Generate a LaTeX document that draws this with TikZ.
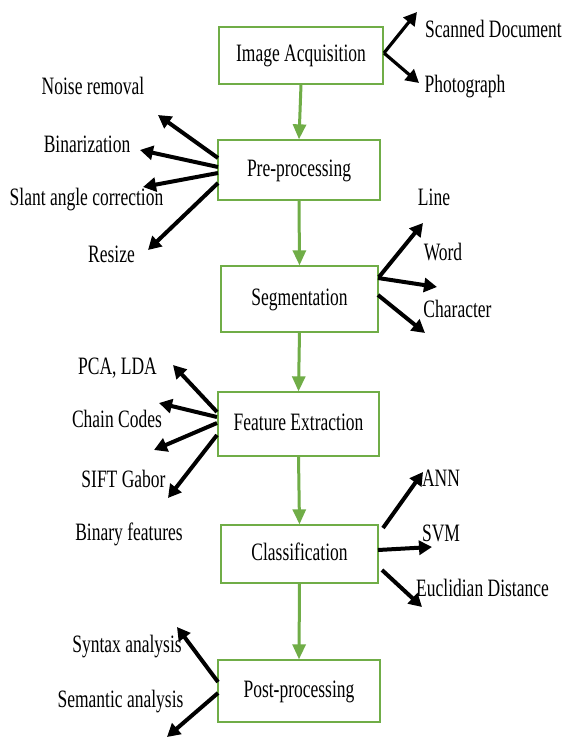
\documentclass[tikz,border=0pt]{standalone}
\usepackage{fontspec}
\setmainfont{Liberation Serif}[FakeStretch=0.7]
\usetikzlibrary{arrows.meta,calc}
\definecolor{boxgreen}{HTML}{70AD47}
\begin{document}
\begin{tikzpicture}[x=1pt,y=-1pt,
  box/.style={draw=boxgreen,line width=1.3pt,inner sep=0pt,
    font=\fontsize{25}{28}\selectfont,text height=17pt,text depth=5pt},
  lbl/.style={inner sep=0pt,anchor=base,font=\fontsize{25}{28}\selectfont},
  flow/.style={draw=boxgreen,line width=3pt,-{Triangle[length=15pt,width=13pt]}},
  outarrow/.style={draw=black,line width=4pt,-{Triangle[length=13pt,width=14pt]}}]
\useasboundingbox (0,0) rectangle (564,737);
\fill[white] (0,0) rectangle (564,737);

% boxes
\node[box,minimum width=164pt,minimum height=57pt] (acq) at (301,55.5) {Image Acquisition};
\node[box,minimum width=162pt,minimum height=60pt] (pre) at (299,170) {Pre-processing};
\node[box,minimum width=157pt,minimum height=66pt] (seg) at (299.5,299) {Segmentation};
\node[box,minimum width=161pt,minimum height=64pt] (feat) at (298.5,424) {Feature Extraction};
\node[box,minimum width=157pt,minimum height=58pt] (cls) at (299.5,554) {Classification};
\node[box,minimum width=162pt,minimum height=62pt] (post) at (299,691) {Post-processing};

% flow arrows
\draw[flow] (acq.south) -- (pre.north);
\draw[flow] (pre.south) -- (seg.north);
\draw[flow] (seg.south) -- (feat.north);
\draw[flow] (feat.south) -- (cls.north);
\draw[flow] (cls.south) -- (post.north);

% labels
\node[lbl] (l1) at (493.5,37) {Scanned Document};
\node[lbl] (l2) at (465,92) {Photograph};
\node[lbl] (l3) at (93,94) {Noise removal};
\node[lbl] (l4) at (87,152) {Binarization};
\node[lbl] (l5) at (86.5,205) {Slant angle correction};
\node[lbl] (l6) at (111.5,262) {Resize};
\node[lbl] (l7) at (434,205) {Line};
\node[lbl] (l8) at (443,260) {Word};
\node[lbl] (l9) at (457.5,317) {Character};
\node[lbl] (l10) at (117.5,374) {PCA, LDA};
\node[lbl] (l11) at (117,427) {Chain Codes};
\node[lbl] (l12) at (123.5,487) {SIFT Gabor};
\node[lbl] (l13) at (129,540) {Binary features};
\node[lbl] (l14) at (441,486) {ANN};
\node[lbl] (l15) at (441,541) {SVM};
\node[lbl] (l16) at (482.5,596) {Euclidian Distance};
\node[lbl] (l17) at (127,652) {Syntax analysis};
\node[lbl] (l18) at (120.5,707) {Semantic analysis};

% arrow ends
\coordinate (a0) at (384,53);
\coordinate (a1) at (417,12);
\coordinate (a2) at (419,83);
\coordinate (p0a) at (218,158); \coordinate (p1) at (158,115);
\coordinate (p0b) at (218,167); \coordinate (p2) at (140,150);
\coordinate (p0c) at (218,173); \coordinate (p3) at (143,187);
\coordinate (p0d) at (218,183); \coordinate (p4) at (148,250);
\coordinate (s0a) at (379,277); \coordinate (s1) at (423,223);
\coordinate (s0b) at (378,278); \coordinate (s2) at (437,287);
\coordinate (s0c) at (378,295); \coordinate (s3) at (425,333);
\coordinate (f0a) at (217,412); \coordinate (f1) at (173,365);
\coordinate (f0b) at (217,417); \coordinate (f2) at (159,403);
\coordinate (f0c) at (217,423); \coordinate (f3) at (154,450);
\coordinate (f0d) at (217,435); \coordinate (f4) at (168,498);
\coordinate (c0a) at (383,528); \coordinate (c1) at (423,472);
\coordinate (c0b) at (378,550); \coordinate (c2) at (432,547);
\coordinate (c0c) at (382,570); \coordinate (c3) at (422,607);
\coordinate (q0a) at (218,682); \coordinate (q1) at (177,627);
\coordinate (q0b) at (218,693); \coordinate (q2) at (167,737);

\draw[outarrow,line width=3.2pt] (a0) -- (a1);
\draw[outarrow,line width=3.2pt] (a0) -- (a2);
\draw[outarrow] (p0a) -- (p1);
\draw[outarrow] (p0b) -- (p2);
\draw[outarrow] (p0c) -- (p3);
\draw[outarrow] (p0d) -- (p4);
\draw[outarrow] (s0a) -- (s1);
\draw[outarrow] (s0b) -- (s2);
\draw[outarrow] (s0c) -- (s3);
\draw[outarrow] (f0a) -- (f1);
\draw[outarrow] (f0b) -- (f2);
\draw[outarrow] (f0c) -- (f3);
\draw[outarrow] (f0d) -- (f4);
\draw[outarrow] (c0a) -- (c1);
\draw[outarrow] (c0b) -- (c2);
\draw[outarrow] (c0c) -- (c3);
\draw[outarrow] (q0a) -- (q1);
\draw[outarrow] (q0b) -- (q2);
\end{tikzpicture}
\end{document}
